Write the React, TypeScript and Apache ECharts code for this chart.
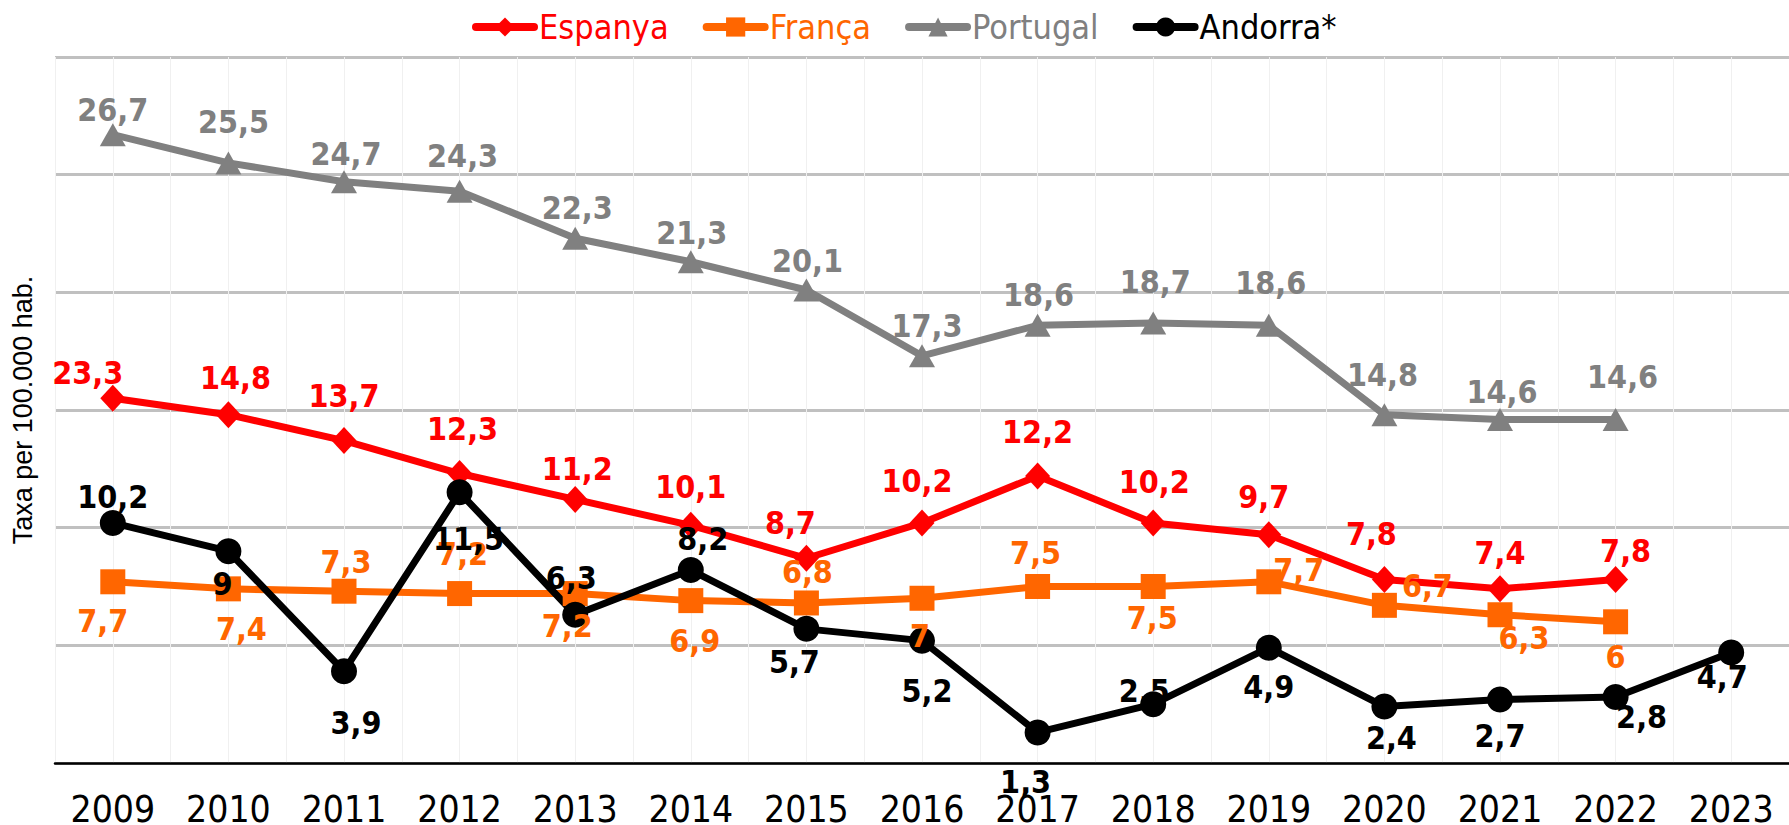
import React, { useEffect, useRef } from "react";
import * as echarts from "echarts";

const years = ["2009","2010","2011","2012","2013","2014","2015","2016","2017","2018","2019","2020","2021","2022","2023"];

const espanyaValues = [15.5, 14.8, 13.7, 12.3, 11.2, 10.1, 8.7, 10.2, 12.2, 10.2, 9.7, 7.8, 7.4, 7.8, null];
const espanyaLabels = ["23,3","14,8","13,7","12,3","11,2","10,1","8,7","10,2","12,2","10,2","9,7","7,8","7,4","7,8",""];
const francaValues = [7.7, 7.4, 7.3, 7.2, 7.2, 6.9, 6.8, 7, 7.5, 7.5, 7.7, 6.7, 6.3, 6, null];
const portugalValues = [26.7, 25.5, 24.7, 24.3, 22.3, 21.3, 20.1, 17.3, 18.6, 18.7, 18.6, 14.8, 14.6, 14.6, null];
const andorraValues = [10.2, 9, 3.9, 11.5, 6.3, 8.2, 5.7, 5.2, 1.3, 2.5, 4.9, 2.4, 2.7, 2.8, 4.7];

// label offsets (layout only)
const espanyaOffsets = [[-25,-25],[7,-37],[0,-45],[3,-45],[2,-30],[0,-38],[-16,-35],[-5,-42],[0,-44],[1,-41],[-5,-38],[-13,-45],[0,-36],[10,-28],[0,0]];
const francaOffsets = [[-10,39],[13,40],[2,-29],[3,-40],[-8,32],[4,40],[1,-31],[-2,38],[-2,-34],[-1,31],[30,-12],[43,-19],[24,23],[0,35],[0,0]];
const portugalOffsets = [[0,-25],[5,-41],[2,-28],[3,-35],[2,-30],[1,-29],[1,-29],[5,-30],[1,-30],[2,-41],[2,-42],[-2,-40],[2,-27],[7,-42],[0,0]];
const andorraOffsets = [[0,-26],[-6,33],[12,52],[9,47],[-4,-37],[12,-31],[-12,33],[5,50],[-12,50],[-9,-13],[0,39],[7,31],[0,37],[26,20],[-9,25]];

const FONT = "'DejaVu Sans Condensed', 'DejaVu Sans', Tahoma, sans-serif";

function fmt(v: number | null) {
  return v == null ? "" : String(v).replace(".", ",");
}

function buildData(values: (number | null)[], offsets: number[][], labels?: string[]) {
  return values.map((v, i) => ({
    value: v,
    label: {
      offset: offsets[i],
      formatter: labels ? labels[i] : fmt(v),
    },
  }));
}

export default function App() {
  const ref = useRef<HTMLDivElement>(null);
  useEffect(() => {
    document.body.style.margin = "0";
    if (!ref.current) return;
    const chart = echarts.init(ref.current, undefined, { renderer: "svg" });
    const mk = (name: string, color: string, symbol: string, symbolSize: any, data: any[]) => ({
      name,
      type: "line",
      symbol,
      symbolSize,
      data,
      itemStyle: { color },
      lineStyle: { color, width: 7 },
      label: {
        show: true,
        position: "inside",
        color,
        fontSize: 32,
        fontWeight: "bold",
        fontFamily: FONT,
      },
      emphasis: { disabled: true },
    });
    chart.setOption({
      animation: false,
      legend: {
        top: 5,
        left: 467,
        itemWidth: 58,
        itemHeight: 24,
        itemGap: 34,
        lineStyle: { width: 8, cap: "round" },
        textStyle: { fontSize: 34, fontFamily: FONT },
        data: [
          { name: "Espanya", textStyle: { color: "#FF0000" } },
          { name: "França", textStyle: { color: "#FF6600" } },
          { name: "Portugal", textStyle: { color: "#808080" } },
          { name: "Andorra*", textStyle: { color: "#000000" } },
        ],
      },
      grid: { left: 55, right: 0, top: 57, bottom: 62, outerBoundsMode: "none", containLabel: false },
      xAxis: [
        {
          type: "category",
          data: years,
          boundaryGap: true,
          axisLine: { lineStyle: { color: "#000", width: 2.5 } },
          axisTick: { length: 12, lineStyle: { color: "#000", width: 2.5 } },
          axisLabel: { fontSize: 37, lineHeight: 26, color: "#000", margin: 33, fontFamily: FONT },
          splitLine: { show: false },
          z: 5,
        },
        {
          type: "value",
          min: -0.5,
          max: 14.5,
          interval: 0.5,
          position: "bottom",
          axisLine: { show: false },
          axisTick: { show: false },
          axisLabel: { show: false },
          splitLine: { show: true, lineStyle: { color: "#f0f0f0", width: 1 } },
        },
      ],
      yAxis: {
        type: "value",
        min: 0,
        max: 30,
        interval: 5,
        axisLine: { show: false },
        axisTick: { show: false },
        axisLabel: { show: false },
        splitLine: { lineStyle: { color: "#c0c0c0", width: 3 } },
        name: "Taxa per 100.000 hab.",
        nameLocation: "middle",
        nameRotate: 90,
        nameGap: 19,
        nameTextStyle: { fontSize: 27, color: "#000", fontFamily: "'Liberation Sans', Arial, sans-serif" },
      },
      series: [
        mk("Espanya", "#FF0000", "diamond", [25, 27], buildData(espanyaValues, espanyaOffsets, espanyaLabels)),
        mk("França", "#FF6600", "rect", 25, buildData(francaValues, francaOffsets)),
        mk("Portugal", "#808080", "triangle", [26, 23], buildData(portugalValues, portugalOffsets)),
        mk("Andorra*", "#000000", "circle", 26, buildData(andorraValues, andorraOffsets)),
      ],
    });
    return () => chart.dispose();
  }, []);
  return <div ref={ref} style={{ width: 1789, height: 825 }} />;
}
